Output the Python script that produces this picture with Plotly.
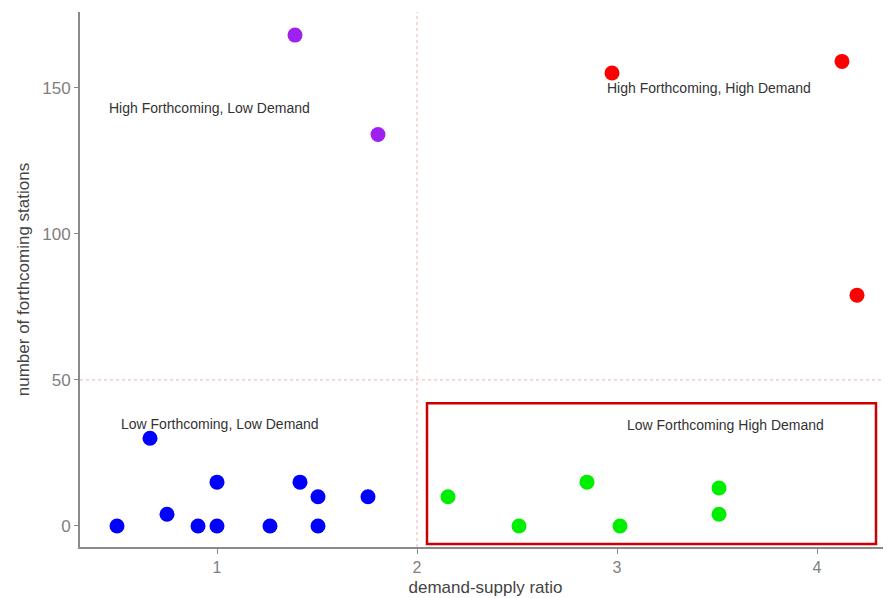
import plotly.graph_objects as go

# Data
blue_x = [0.5, 0.665, 0.75, 0.905, 1.0, 1.0, 1.265, 1.415, 1.505, 1.505, 1.755]
blue_y = [0, 30, 4, 0, 15, 0, 0, 15, 10, 0, 10]
purple_x = [1.39, 1.805]
purple_y = [168, 134]
red_x = [2.975, 4.125, 4.2]
red_y = [155, 159, 79]
green_x = [2.155, 2.51, 2.85, 3.015, 3.51, 3.51]
green_y = [10, 0, 15, 0, 13, 4]

x_threshold = 2.0
y_threshold = 50

box_x = [2.05, 4.295]
box_y = [-6.2, 42]

labels = ["High Forthcoming, Low Demand", "High Forthcoming, High Demand",
          "Low Forthcoming, Low Demand", "Low Forthcoming High Demand"]
label_x = [0.96, 3.4575, 1.015, 3.54]
label_y = [143, 150, 35, 34.5]

x_ticks = [1, 2, 3, 4]
y_ticks = [0, 50, 100, 150]

fig = go.Figure()
for xs, ys, c in [(blue_x, blue_y, "#0000ff"), (purple_x, purple_y, "#a020f0"),
                  (red_x, red_y, "#ff0000"), (green_x, green_y, "#00ee00")]:
    fig.add_trace(go.Scatter(x=xs, y=ys, mode="markers",
                             marker=dict(color=c, size=15, line=dict(width=0)),
                             showlegend=False))

fig.add_shape(type="line", xref="x", yref="paper", x0=x_threshold, x1=x_threshold, y0=0, y1=1,
              line=dict(color="#f4b0b0", width=1, dash="dot"), layer="below")
fig.add_shape(type="line", xref="paper", yref="y", x0=0, x1=1, y0=y_threshold, y1=y_threshold,
              line=dict(color="#f4b0b0", width=1, dash="dot"), layer="below")
fig.add_shape(type="rect", xref="x", yref="y", x0=box_x[0], x1=box_x[1], y0=box_y[0], y1=box_y[1],
              line=dict(color="#cc0000", width=2.5))

for t, x, y in zip(labels, label_x, label_y):
    fig.add_annotation(x=x, y=y, text=t, showarrow=False,
                       font=dict(family="Liberation Sans, Arial", size=14, color="#333333"))

fig.update_layout(
    width=883, height=590,
    margin=dict(l=72, r=0, t=4, b=51),
    plot_bgcolor="white", paper_bgcolor="white",
    font=dict(family="Liberation Sans, Arial"),
    xaxis=dict(range=[0.315, 4.37], tickvals=x_ticks, showgrid=False, zeroline=False,
               showline=True, linecolor="#8a8a8a", linewidth=2,
               ticks="outside", ticklen=5, tickcolor="#8a8a8a",
               tickfont=dict(size=16, color="#808080"),
               title=dict(text="demand-supply ratio", font=dict(size=17, color="#444444"), standoff=6)),
    yaxis=dict(range=[-7.2, 175.9], tickvals=y_ticks, showgrid=False, zeroline=False,
               showline=True, linecolor="#8a8a8a", linewidth=2,
               ticks="outside", ticklen=4, tickcolor="#8a8a8a",
               tickfont=dict(size=17, color="#808080"),
               title=dict(text="number of forthcoming stations", font=dict(size=17, color="#444444"), standoff=8)),
)

fig.write_html("out.html")
